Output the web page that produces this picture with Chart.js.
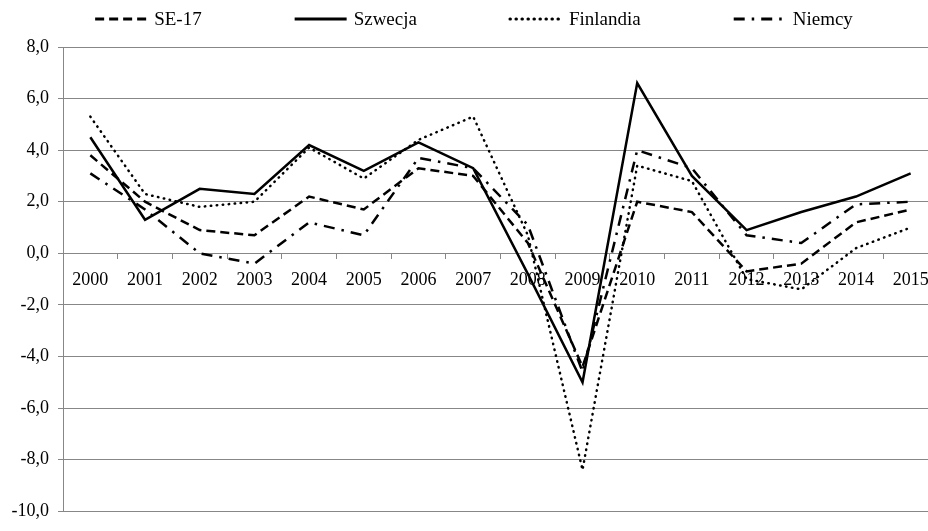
<!DOCTYPE html>
<html>
<head>
<meta charset="utf-8">
<script src="https://cdn.jsdelivr.net/npm/chart.js@4.4.1/dist/chart.umd.min.js"></script>
<style>
  html, body { margin: 0; padding: 0; background: #fff; overflow: hidden; }
  #wrap { width: 948px; height: 531px; }
</style>
</head>
<body>
<div id="wrap"><canvas id="chart" width="948" height="531"></canvas></div>
<script>
const years = ['2000', '2001', '2002', '2003', '2004', '2005', '2006', '2007',
               '2008', '2009', '2010', '2011', '2012', '2013', '2014', '2015'];
const se17      = [3.8, 2.0, 0.9, 0.7, 2.2, 1.7, 3.3, 3.0, 0.4, -4.4, 2.0, 1.6, -0.7, -0.4, 1.2, 1.7];
const szwecja   = [4.5, 1.3, 2.5, 2.3, 4.2, 3.2, 4.3, 3.3, -0.8, -5.0, 6.6, 3.0, 0.9, 1.6, 2.2, 3.1];
const finlandia = [5.3, 2.3, 1.8, 2.0, 4.1, 2.9, 4.4, 5.3, 0.7, -8.4, 3.4, 2.8, -1.0, -1.4, 0.2, 1.0];
const niemcy    = [3.1, 1.7, 0.0, -0.4, 1.2, 0.7, 3.7, 3.3, 1.1, -4.6, 4.0, 3.3, 0.7, 0.4, 1.9, 2.0];

const GRID = '#878787';
const FAMILY = '"Liberation Serif", "Times New Roman", serif';
const FONT = { family: FAMILY, size: 18 };

// legend drawn by hand so the line samples keep their dash style
const lineLegend = {
  id: 'lineLegend',
  afterDraw(chart) {
    const ctx = chart.ctx;
    const sample = 52, gap = 7, spacing = 93, y = 19;
    ctx.save();
    ctx.font = '19px ' + FAMILY;
    const items = chart.data.datasets.map(ds => ({ ds, w: sample + gap + ctx.measureText(ds.label).width }));
    const total = items.reduce((s, it) => s + it.w, 0) + spacing * (items.length - 1);
    let x = (chart.width - total) / 2;
    items.forEach(({ ds, w }) => {
      ctx.beginPath();
      ctx.setLineDash(ds.borderDash || []);
      ctx.lineCap = ds.borderCapStyle || 'butt';
      ctx.lineWidth = 3;
      ctx.strokeStyle = ds.borderColor;
      ctx.moveTo(x, y);
      ctx.lineTo(x + sample, y);
      ctx.stroke();
      ctx.setLineDash([]);
      ctx.fillStyle = '#000';
      ctx.textBaseline = 'middle';
      ctx.fillText(ds.label, x + sample + gap, y + 1);
      x += w + spacing;
    });
    ctx.restore();
  }
};

new Chart(document.getElementById('chart'), {
  type: 'line',
  data: {
    labels: years,
    datasets: [
      { label: 'SE-17', data: se17, borderColor: '#000', borderWidth: 2.5, borderDash: [9, 5] },
      { label: 'Szwecja', data: szwecja, borderColor: '#000', borderWidth: 2.5 },
      { label: 'Finlandia', data: finlandia, borderColor: '#000', borderWidth: 2.5,
        borderDash: [0.5, 5.5], borderCapStyle: 'round' },
      { label: 'Niemcy', data: niemcy, borderColor: '#000', borderWidth: 2.5, borderDash: [11, 7, 2.5, 7] },
    ],
  },
  options: {
    responsive: false,
    animation: false,
    devicePixelRatio: 1,
    layout: { padding: { top: 47, bottom: 9, right: 10, left: 0 } },
    plugins: {
      legend: { display: false },
      tooltip: { enabled: false },
    },
    elements: {
      point: { radius: 0 },
      line: { tension: 0 },
    },
    scales: {
      x: {
        position: { y: 0 },
        offset: true,
        grid: { offset: true, drawOnChartArea: false, drawTicks: true, tickLength: 5, color: GRID },
        border: { color: GRID, width: 1 },
        ticks: { color: '#000', font: FONT, padding: 11, maxRotation: 0, autoSkip: false },
      },
      y: {
        min: -10,
        max: 8,
        afterFit(scale) { scale.width = 63; },
        grid: { color: GRID, tickLength: 5 },
        border: { color: GRID },
        ticks: {
          stepSize: 2,
          color: '#000',
          font: FONT,
          padding: 9,
          callback: v => v.toFixed(1).replace('.', ','),
        },
      },
    },
  },
  plugins: [lineLegend],
});
</script>
</body>
</html>
